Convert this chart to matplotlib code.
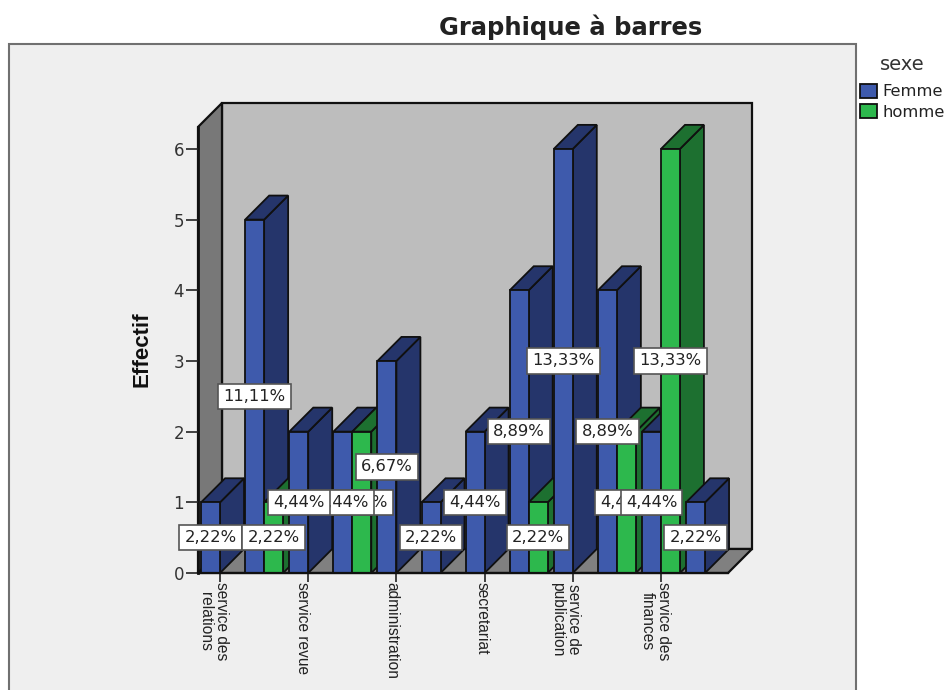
import numpy as np
import matplotlib
matplotlib.use('Agg')
import matplotlib.pyplot as plt
from matplotlib.patches import Polygon, Rectangle, Patch
from matplotlib.transforms import ScaledTranslation

"Data: 12 services, only every second label is shown"
femme = [1, 5, 2, 2, 3, 1, 2, 4, 6, 4, 2, 1]
homme = [0, 1, 0, 2, 0, 0, 0, 1, 0, 2, 6, 0]
femme_pct = ['2,22%', '11,11%', '4,44%', '4,44%', '6,67%', '2,22%', '4,44%', '8,89%', '13,33%', '8,89%', '4,44%', '2,22%']
homme_pct = ['', '2,22%', '', '4,44%', '', '', '', '2,22%', '', '4,44%', '13,33%', '']
tick_pos = [0, 2, 4, 6, 8, 10]
tick_labels = ['service des\nrelations', 'service revue', 'administration', 'secretariat', 'service de\npublication', 'service des\nfinances']
label_shift = [-5, -4, -3, -2, -5, -4]

W, H = 946, 690
arial = 'Liberation Sans'

fig = plt.figure(figsize=(W / 100, H / 100), dpi=100, facecolor='white')

"Outer frame"
fig.add_artist(Rectangle((9 / W, -0.02), 847 / W, (H - 44) / H + 0.02, transform=fig.transFigure,
                         facecolor='#efefef', edgecolor='#707070', linewidth=1.5, zorder=-1))

ax = fig.add_axes([198 / W, (H - 573) / H, 530 / W, 446 / H])
ax.patch.set_visible(False)
ax.set_xlim(-0.5, 11.52)
ax.set_ylim(0, 6.31)

dx, dy = 0.544, 0.34
bw = 0.43
x0, x1, ytop = -0.5, 11.52, 6.31

"Walls and floor"
wall_edge = dict(edgecolor='#101010', linewidth=1.6, clip_on=False)
ax.add_patch(Polygon([(x0 + dx, dy), (x1 + dx, dy), (x1 + dx, ytop + dy), (x0 + dx, ytop + dy)],
                     facecolor='#bdbdbd', zorder=1, **wall_edge))
ax.add_patch(Polygon([(x0, 0), (x0 + dx, dy), (x0 + dx, ytop + dy), (x0, ytop)],
                     facecolor='#787878', zorder=1, **wall_edge))
ax.add_patch(Polygon([(x0, 0), (x1, 0), (x1 + dx, dy), (x0 + dx, dy)],
                     facecolor='#808080', zorder=1, **wall_edge))


def bar3d(left, h, front, side, z):
    right = left + bw
    ax.bar(left, h, bw, align='edge', color=front, edgecolor='#101010', linewidth=1.3, zorder=z + 0.2)
    ax.add_patch(Polygon([(right, 0), (right + dx, dy), (right + dx, h + dy), (right, h)],
                         facecolor=side, edgecolor='#101010', linewidth=1.3, zorder=z, clip_on=False))
    ax.add_patch(Polygon([(left, h), (right, h), (right + dx, h + dy), (left + dx, h + dy)],
                         facecolor=side, edgecolor='#101010', linewidth=1.3, zorder=z + 0.1, clip_on=False))


"Bars, left to right so the nearer ones hide the depth of the previous"
for i in range(len(femme)):
    if femme[i] > 0:
        bar3d(i - bw, femme[i], '#3e5aac', '#25356b', 2 + i)
    if homme[i] > 0:
        bar3d(i, homme[i], '#2db84d', '#1d7030', 2.5 + i)


def pct(x, y, s, z):
    ax.text(x, y, s, ha='center', va='center', fontsize=11.8, color='#222222', zorder=z, clip_on=False,
            bbox=dict(boxstyle='square,pad=0.32', facecolor='white', edgecolor='#555555', linewidth=1.2))


"Value boxes; overlap order as in the picture"
for i in range(len(femme)):
    if homme_pct[i]:
        pct(i + bw / 2, homme[i] / 2, homme_pct[i], 30 if i in (3, 9) else 40 + i)
for i in range(len(femme)):
    pct(i - bw / 2, femme[i] / 2, femme_pct[i], 35 if i == 3 else 40 + i)

"Axes"
for s in ['top', 'right']:
    ax.spines[s].set_visible(False)
ax.spines['left'].set_linewidth(2)
ax.spines['bottom'].set_linewidth(1.6)
ax.spines['left'].set_color('#101010')
ax.spines['bottom'].set_color('#101010')
ax.spines['left'].set_zorder(1.5)
ax.spines['bottom'].set_zorder(25)

ax.set_yticks(range(7))
ax.tick_params(axis='y', length=8.5, width=1.2, color='#222222', labelsize=12, labelcolor='#333333', pad=1.5)
ax.set_xticks(tick_pos)
ax.set_xticklabels(tick_labels, rotation=270, ha='center', va='top', family=arial, fontsize=11.2,
                   color='#222222', linespacing=1.1)
ax.tick_params(axis='x', length=6.5, width=1.2, color='#222222', pad=0)
for lab, sh in zip(ax.get_xticklabels(), label_shift):
    lab.set_transform(lab.get_transform() + ScaledTranslation(sh / 72, 0, fig.dpi_scale_trans))

fig.text(142 / W, 1 - 349 / H, 'Effectif', rotation=90, ha='center', va='center', family=arial,
         fontweight='bold', fontsize=16, color='#111111')

"Title and legend"
fig.text(571 / W, 1 - 27 / H, 'Graphique à barres', ha='center', va='center', fontsize=17.5,
         fontweight='bold', color='#222222')

handles = [Patch(facecolor='#3e5aac', edgecolor='#101010', linewidth=1.3, label='Femme'),
           Patch(facecolor='#2db84d', edgecolor='#101010', linewidth=1.3, label='homme')]
leg = fig.legend(handles=handles, title='sexe', loc='upper left', bbox_to_anchor=(860 / W, 1 - 55 / H),
                 frameon=False, fontsize=11.8, title_fontsize=14, handlelength=1.05, handleheight=0.92,
                 handletextpad=0.3, labelspacing=0.3, borderpad=0, borderaxespad=0)
leg._legend_box.sep = 7
for t in leg.get_texts():
    t.set_color('#222222')
leg.get_title().set_color('#333333')

plt.savefig('out.png', dpi=100)
